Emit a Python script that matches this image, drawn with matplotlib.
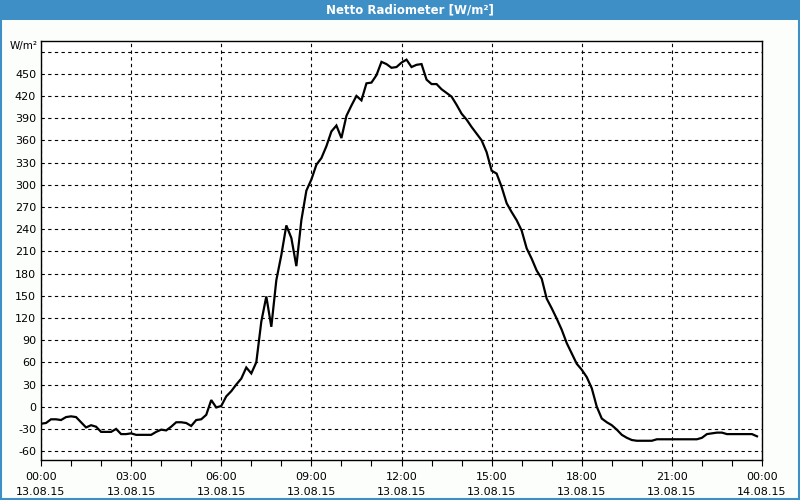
import matplotlib
matplotlib.use('Agg')
import matplotlib.pyplot as plt
import matplotlib.dates as mdates
from matplotlib.patches import Rectangle
import pandas as pd

TITLE = 'Netto Radiometer [W/m²]'
UNIT = 'W/m²'
START = '2015-08-13 00:00'
STEP = '10min'
# net radiation, one reading every 10 minutes from 00:00 to 23:50
VALUES = [
    -23, -22, -17, -17, -18, -14, -13, -14, -21, -28,
    -25, -27, -34, -34, -34, -30, -37, -37, -36, -38,
    -38, -38, -38, -34, -31, -32, -27, -21, -21, -22,
    -26, -18, -17, -11, 9, -1, 1, 14, 21, 30,
    38, 53, 45, 60, 115, 149, 108, 171, 205, 245,
    228, 190, 252, 292, 307, 327, 336, 352, 372, 380,
    363, 393, 407, 420, 414, 437, 438, 448, 466, 463,
    458, 459, 465, 469, 459, 462, 463, 442, 436, 436,
    429, 424, 419, 408, 396, 388, 378, 369, 360, 344,
    319, 315, 297, 275, 263, 252, 238, 214, 200, 184,
    173, 146, 133, 119, 104, 86, 72, 58, 50, 40,
    25, 0, -16, -21, -25, -31, -38, -42, -45, -46,
    -46, -46, -46, -44, -44, -44, -44, -44, -44, -44,
    -44, -44, -42, -37, -36, -35, -35, -37, -37, -37,
    -37, -37, -37, -40,
]
Y_TICKS = list(range(-60, 481, 30))

BLUE = '#3D8FC6'
BG = '#FCFEFC'

times = pd.date_range(START, periods=len(VALUES), freq=STEP)
t0 = pd.Timestamp(START)
t1 = t0 + pd.Timedelta(hours=24)

plt.rcParams.update({'font.family': 'DejaVu Sans', 'font.size': 8})
fig = plt.figure(figsize=(8, 5), dpi=100, facecolor=BG)
fig.patches.append(Rectangle((0, 0.96), 1, 0.04, transform=fig.transFigure,
                             facecolor=BLUE, edgecolor='none', zorder=0))
fig.patches.append(Rectangle((0.001, 0.002), 0.998, 0.996, transform=fig.transFigure,
                             facecolor='none', edgecolor=BLUE, lw=1.5, zorder=1))
fig.text(0.513, 0.981, TITLE, color='white', fontweight='bold', fontsize=8.5,
         ha='center', va='center')

ax = fig.add_axes([0.05125, 0.08, 0.90125, 0.8386])
ax.set_facecolor('white')
ax.plot(times, VALUES, color='black', lw=1.6, solid_joinstyle='miter')
ax.set_xlim(t0, t1)
ax.set_ylim(-72, 494.6)

# 480 gridline has no label: the unit sits there instead
ax.set_yticks(Y_TICKS)
ax.set_yticklabels([str(v) if v != Y_TICKS[-1] else '' for v in Y_TICKS])
ax.tick_params(axis='y', length=0, pad=3.5)

ticks = list(pd.date_range(t0, t1, freq='3h'))
ax.set_xticks(ticks)
ax.set_xticklabels([t.strftime('%H:%M') + '\n' + t.strftime('%d.%m.%y') for t in ticks],
                   linespacing=1.6)
ax.xaxis.set_minor_locator(mdates.HourLocator())
ax.tick_params(axis='x', which='both', length=4, width=0.8, pad=5)

ax.grid(True, which='major', color='black', ls=(0, (3, 3)), lw=0.8)
for s in ax.spines.values():
    s.set_color('black')
    s.set_linewidth(1.0)

fig.text(0.047, 0.908, UNIT, ha='right', va='center', fontsize=7.5)

fig.savefig('out.png', dpi=100, facecolor=BG)
